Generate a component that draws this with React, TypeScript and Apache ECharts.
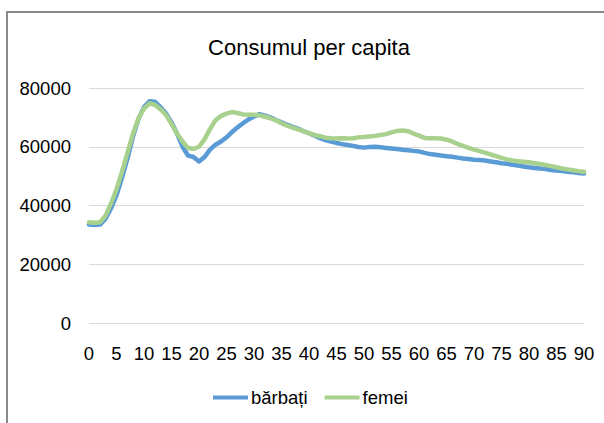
import React, { useEffect, useRef } from "react";
import * as echarts from "echarts";

const ages: string[] = [];
for (let a = 0; a <= 90; a++) ages.push(String(a));

const barbati = [
  33500, 33400, 33500, 35500, 39000, 43500, 49500, 56000, 63500, 69500,
  73500, 75500, 75300, 73500, 71300, 68300, 64500, 60000, 57000, 56500,
  55000, 56500, 59000, 60700, 61800, 63200, 65000, 66600, 68000, 69300,
  70300, 71100, 70600, 70000, 69100, 68300, 67500, 66800, 66200, 65300,
  64600, 63800, 62900, 62300, 61800, 61300, 60900, 60600, 60300, 59900,
  59700, 59900, 60000, 59800, 59600, 59400, 59200, 59000, 58800, 58600,
  58400, 57900, 57500, 57300, 57000, 56800, 56600, 56300, 56000, 55800,
  55600, 55500, 55300, 55000, 54700, 54400, 54200, 53900, 53600, 53300,
  53000, 52800, 52600, 52400, 52100, 51900, 51700, 51500, 51300, 51100,
  50900,
];

const femei = [
  34300, 34100, 34300, 36500, 40700, 45500, 51500, 58000, 64500, 69700,
  73000, 74800, 74300, 72800, 70800, 67800, 64500, 61800, 59600, 59300,
  60000, 62500, 66000, 69000, 70500, 71300, 71800, 71500, 71000, 70900,
  70900, 70700, 70200, 69700, 69000, 68000, 67200, 66500, 65900, 65300,
  64600, 64000, 63600, 63100, 62900, 62800, 62900, 62800, 62900, 63200,
  63300, 63500, 63700, 64000, 64300, 64900, 65400, 65500, 65300, 64500,
  63800, 63000, 62900, 62900, 62800, 62400, 61800, 61000, 60300, 59600,
  59000, 58500, 58000, 57400, 56800, 56200, 55700, 55300, 55100, 54900,
  54700, 54400, 54100, 53800, 53400, 53000, 52600, 52300, 52000, 51700,
  51500,
];

const seriesNames = ["bărbați", "femei"];
const title = "Consumul per capita";

const FONT = '"Liberation Sans", "Noto Sans", sans-serif';

export default function App() {
  const ref = useRef<HTMLDivElement>(null);
  useEffect(() => {
    if (!ref.current) return;
    const chart = echarts.init(ref.current, undefined, { renderer: "svg" });
    chart.setOption({
      animation: false,
      backgroundColor: "#ffffff",
      textStyle: { fontFamily: FONT },
      title: {
        text: title,
        left: 309,
        textAlign: "center",
        top: 36,
        padding: 0,
        textStyle: { fontFamily: FONT, fontSize: 22, fontWeight: "normal", color: "#000" },
      },
      legend: {
        data: seriesNames,
        left: 213,
        top: 388,
        padding: 0,
        icon: "rect",
        itemWidth: 35,
        itemHeight: 4,
        itemGap: 17,
        textStyle: { fontFamily: FONT, fontSize: 18.5, color: "#000", padding: [0, 0, 0, -2] },
      },
      grid: { left: 89, right: 20, top: 88, bottom: 100, containLabel: false },
      xAxis: {
        type: "category",
        data: ages,
        boundaryGap: false,
        axisLine: { show: false },
        axisTick: { show: false },
        axisLabel: {
          interval: 4,
          margin: 21,
          fontFamily: FONT,
          fontSize: 18.5,
          color: "#000",
        },
        splitLine: { show: false },
      },
      yAxis: {
        type: "value",
        min: 0,
        max: 80000,
        interval: 20000,
        axisLine: { show: false },
        axisTick: { show: false },
        axisLabel: {
          margin: 18,
          fontFamily: FONT,
          fontSize: 18.5,
          color: "#000",
          formatter: (v: number) => String(v),
        },
        splitLine: { show: true, lineStyle: { color: "#d9d9d9", width: 1 } },
      },
      series: [
        {
          name: seriesNames[0],
          type: "line",
          data: barbati,
          showSymbol: false,
          symbol: "none",
          lineStyle: { color: "#5B9BD5", width: 4.5, cap: "round", join: "round" },
          itemStyle: { color: "#5B9BD5" },
        },
        {
          name: seriesNames[1],
          type: "line",
          data: femei,
          showSymbol: false,
          symbol: "none",
          lineStyle: { color: "#A9D18E", width: 4.5, cap: "round", join: "round" },
          itemStyle: { color: "#A9D18E" },
        },
      ],
      graphic: [
        {
          type: "rect",
          shape: { x: 7, y: 12, width: 640, height: 440 },
          style: { fill: "none", stroke: "#8a8a8a", lineWidth: 2 },
          silent: true,
          z: 100,
        },
      ],
    });
    return () => chart.dispose();
  }, []);
  return (
    <div
      ref={ref}
      style={{ position: "fixed", left: 0, top: 0, width: 604, height: 423 }}
    />
  );
}
